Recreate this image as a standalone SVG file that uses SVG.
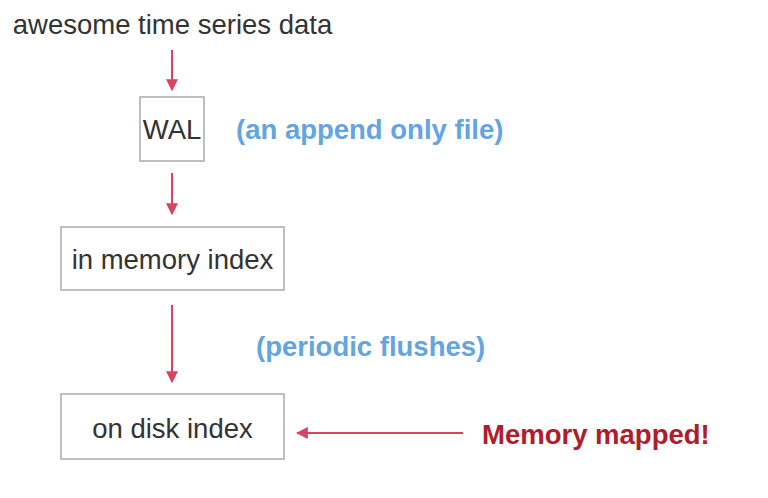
<svg xmlns="http://www.w3.org/2000/svg" width="768" height="498" viewBox="0 0 768 498">
<style>
text{font-family:"Liberation Sans",Arial,Helvetica,sans-serif}
.lbl{font-size:27.5px;fill:#333}
.box{fill:#fff;stroke:#aaa;stroke-width:1.5}
.blue{font-size:27.5px;font-weight:bold;fill:#63a4e3}
.red{font-size:27.5px;font-weight:bold;fill:#b01c2c}
.conn{stroke:#d9435f;stroke-width:2;fill:none}
</style>
<defs>
<marker id="ah" viewBox="0 0 10 10" refX="9" refY="5" markerWidth="6" markerHeight="6" orient="auto">
<path d="M0,0 L10,5 L0,10 z" fill="#d9435f"/>
</marker>
</defs>
<rect width="768" height="498" fill="#fff"/>
<g id="source"><text class="lbl" x="172.5" y="34" text-anchor="middle">awesome time series data</text></g>
<g id="wal"><rect class="box" x="140" y="97" width="64" height="64"/><text class="lbl" x="172" y="139" text-anchor="middle">WAL</text></g>
<g id="wal-note"><text class="blue" x="236" y="139">(an append only file)</text></g>
<g id="mem"><rect class="box" x="61" y="227" width="223" height="63"/><text class="lbl" x="172.5" y="269" text-anchor="middle">in memory index</text></g>
<g id="flush-note"><text class="blue" x="256" y="356">(periodic flushes)</text></g>
<g id="disk"><rect class="box" x="61" y="394" width="223" height="65"/><text class="lbl" x="172.5" y="438" text-anchor="middle">on disk index</text></g>
<g id="mmap-note"><text class="red" x="482" y="444">Memory mapped!</text></g>
<g id="connectors">
<line class="conn" x1="172" y1="50" x2="172" y2="90" marker-end="url(#ah)"/>
<line class="conn" x1="172" y1="173" x2="172" y2="214" marker-end="url(#ah)"/>
<line class="conn" x1="172" y1="305" x2="172" y2="382" marker-end="url(#ah)"/>
<line class="conn" x1="463" y1="433" x2="297" y2="433" marker-end="url(#ah)"/>
</g>
</svg>
